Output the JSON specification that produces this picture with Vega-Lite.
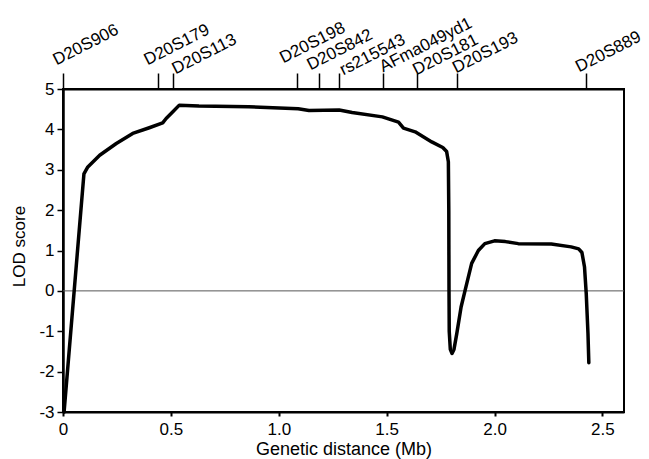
{
  "$schema": "https://vega.github.io/schema/vega-lite/v6.json",
  "width": 561,
  "height": 323,
  "autosize": "none",
  "padding": {"left": 63, "top": 89, "right": 25, "bottom": 47},
  "background": "white",
  "config": {
    "font": "Liberation Sans",
    "view": {"stroke": "black", "strokeWidth": 2},
    "axis": {"grid": false, "labelColor": "black", "titleColor": "black", "domainColor": "black", "tickColor": "black"}
  },
  "datasets": {
    "lod": [
      {"dist": 0.005, "lod": -3.0},
      {"dist": 0.097, "lod": 2.9},
      {"dist": 0.115, "lod": 3.07},
      {"dist": 0.17, "lod": 3.36},
      {"dist": 0.247, "lod": 3.65},
      {"dist": 0.323, "lod": 3.9},
      {"dist": 0.4, "lod": 4.04},
      {"dist": 0.462, "lod": 4.16},
      {"dist": 0.478, "lod": 4.27},
      {"dist": 0.508, "lod": 4.43},
      {"dist": 0.539, "lod": 4.6},
      {"dist": 0.63, "lod": 4.58},
      {"dist": 0.86, "lod": 4.56},
      {"dist": 1.09, "lod": 4.51},
      {"dist": 1.14, "lod": 4.47},
      {"dist": 1.28, "lod": 4.48},
      {"dist": 1.34, "lod": 4.42},
      {"dist": 1.48, "lod": 4.31},
      {"dist": 1.555, "lod": 4.18},
      {"dist": 1.578, "lod": 4.03},
      {"dist": 1.632, "lod": 3.94},
      {"dist": 1.709, "lod": 3.69},
      {"dist": 1.76, "lod": 3.55},
      {"dist": 1.778, "lod": 3.45},
      {"dist": 1.786, "lod": 3.2},
      {"dist": 1.788, "lod": 2.0},
      {"dist": 1.789, "lod": 0.0},
      {"dist": 1.79, "lod": -1.0},
      {"dist": 1.795, "lod": -1.45},
      {"dist": 1.803, "lod": -1.55},
      {"dist": 1.812, "lod": -1.45},
      {"dist": 1.825, "lod": -1.06},
      {"dist": 1.845, "lod": -0.4},
      {"dist": 1.863, "lod": 0.0},
      {"dist": 1.894, "lod": 0.68},
      {"dist": 1.925, "lod": 1.0},
      {"dist": 1.955, "lod": 1.17},
      {"dist": 2.0, "lod": 1.24},
      {"dist": 2.05, "lod": 1.22},
      {"dist": 2.11, "lod": 1.17},
      {"dist": 2.263, "lod": 1.16},
      {"dist": 2.355, "lod": 1.09},
      {"dist": 2.39, "lod": 1.04},
      {"dist": 2.405, "lod": 0.95},
      {"dist": 2.417, "lod": 0.59},
      {"dist": 2.425, "lod": -0.07},
      {"dist": 2.433, "lod": -1.05},
      {"dist": 2.437, "lod": -1.78}
    ],
    "markers": [
      {"marker": "D20S906", "dist": 0},
      {"marker": "D20S179", "dist": 0.44},
      {"marker": "D20S113", "dist": 0.51},
      {"marker": "D20S198", "dist": 1.083},
      {"marker": "D20S842", "dist": 1.186},
      {"marker": "rs215543", "dist": 1.278},
      {"marker": "AFma049yd1", "dist": 1.481},
      {"marker": "D20S181", "dist": 1.64},
      {"marker": "D20S193", "dist": 1.824},
      {"marker": "D20S889", "dist": 2.422}
    ]
  },
  "layer": [
    {
      "data": {"values": [{"lod": 0}]},
      "mark": {"type": "rule", "color": "#555555", "strokeWidth": 1},
      "encoding": {
        "y": {"field": "lod", "type": "quantitative", "scale": {"domain": [-3, 5], "nice": false}, "title": "LOD score"}
      }
    },
    {
      "data": {"name": "lod"},
      "mark": {"type": "line", "color": "black", "strokeWidth": 3.5, "strokeJoin": "round", "strokeCap": "round"},
      "encoding": {
        "x": {
          "field": "dist", "type": "quantitative",
          "scale": {"domain": [0, 2.6], "nice": false, "zero": false},
          "axis": {
            "orient": "bottom",
            "values": [0, 0.5, 1, 1.5, 2, 2.5],
            "labelExpr": "datum.value == 0 ? '0' : format(datum.value, '.1f')",
            "labelFlush": false,
            "labelFontSize": 17,
            "labelPadding": 5,
            "tickSize": 4,
            "tickWidth": 2,
            "domainWidth": 2,
            "title": "Genetic distance (Mb)",
            "titleFontSize": 18,
            "titleFontWeight": "normal",
            "titleBaseline": "alphabetic",
            "titleY": 42
          }
        },
        "y": {
          "field": "lod", "type": "quantitative",
          "scale": {"domain": [-3, 5], "nice": false},
          "title": "LOD score",
          "axis": {
            "orient": "left",
            "values": [-3, -2, -1, 0, 1, 2, 3, 4, 5],
            "labelExpr": "datum.value + ''",
            "labelFontSize": 17,
            "labelPadding": 3,
            "tickSize": 6,
            "tickWidth": 1.5,
            "domainWidth": 2.5,
            "titleFontSize": 17,
            "titleFontWeight": "normal",
            "titleAngle": -90,
            "titleBaseline": "alphabetic",
            "titleAlign": "center",
            "titleX": -39,
            "titleY": 157
          }
        }
      }
    },
    {
      "data": {"name": "markers"},
      "mark": {"type": "point", "opacity": 0},
      "encoding": {
        "x": {
          "field": "dist", "type": "quantitative",
          "axis": {
            "orient": "top",
            "values": [0, 0.44, 0.51, 1.083, 1.186, 1.278, 1.481, 1.64, 1.824, 2.422],
            "labelExpr": "['D20S906','D20S179','D20S113','D20S198','D20S842','rs215543','AFma049yd1','D20S181','D20S193','D20S889'][indexof([0, 0.44, 0.51, 1.083, 1.186, 1.278, 1.481, 1.64, 1.824, 2.422], datum.value)]",
            "labelAngle": -27,
            "labelAlign": "left",
            "labelBaseline": "alphabetic",
            "labelOffset": {
              "condition": [
                {"test": "datum.value == 0", "value": -7},
                {"test": "datum.value == 0.44", "value": -11},
                {"test": "datum.value == 0.51", "value": 2},
                {"test": "datum.value == 1.083", "value": -14},
                {"test": "datum.value == 1.186", "value": -9},
                {"test": "datum.value == 1.278", "value": 4},
                {"test": "datum.value == 1.64 || datum.value == 1.824", "value": -1},
                {"test": "datum.value == 2.422", "value": -7}
              ],
              "value": 0
            },
            "labelPadding": {
              "condition": [
                {"test": "datum.value == 0 || datum.value == 0.44", "value": 8},
                {"test": "datum.value == 0.51", "value": -1},
                {"test": "datum.value == 1.083", "value": 10},
                {"test": "datum.value == 1.186", "value": 3},
                {"test": "datum.value == 1.278 || datum.value == 1.64", "value": -2},
                {"test": "datum.value == 1.824", "value": 0}
              ],
              "value": 1
            },
            "labelFontSize": 17,
            "labelOverlap": false,
            "labelFlush": false,
            "labelBound": false,
            "tickSize": 16,
            "tickWidth": 1.5,
            "domainWidth": 2,
            "title": null
          }
        }
      }
    }
  ],
  "resolve": {"axis": {"x": "independent"}}
}
